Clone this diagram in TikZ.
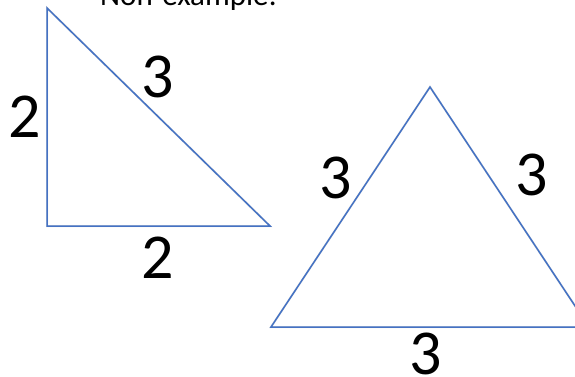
\documentclass[tikz,border=0pt]{standalone}
\usepackage{fontspec}
\setmainfont{Carlito}
\definecolor{edgeblue}{RGB}{68,114,196}
\begin{document}
\begin{tikzpicture}[x=1pt,y=-1pt,
  edge/.style={draw=edgeblue,line width=1.5pt,line join=miter},
  shadowedge/.style={draw=black!12,line width=2pt},
  lbl/.style={font=\fontsize{64}{64}\selectfont,inner sep=0pt},
  title/.style={font=\fontsize{31}{31}\selectfont,inner sep=0pt,anchor=base west}]
\clip (0,0) rectangle (575,376);
\useasboundingbox (0,0) rectangle (575,376);
\fill[white] (0,0) rectangle (575,376);
% vertices
\coordinate (a) at (47,8);
\coordinate (b) at (47,226);
\coordinate (c) at (270,226);
\coordinate (d) at (430,87);
\coordinate (e) at (271,327);
\coordinate (f) at (589,327);
% shadows
\draw[shadowedge,shift={(1.5,2)}] (a) -- (b) -- (c) -- cycle;
\draw[shadowedge,shift={(1.5,2)}] (d) -- (e) -- (f) -- cycle;
% triangles
\draw[edge] (a) -- (b) -- (c) -- cycle;
\draw[edge] (d) -- (e) -- (f) -- cycle;
% title
\node[title] (t) at (100,5) {Non-example:};
% labels
\node[lbl] (l1) at (158,77) {3};
\node[lbl] (l2) at (25,117) {2};
\node[lbl] (l3) at (158,258) {2};
\node[lbl] (l4) at (336,178) {3};
\node[lbl] (l5) at (532,175) {3};
\node[lbl] (l6) at (426,354) {3};
\end{tikzpicture}
\end{document}
